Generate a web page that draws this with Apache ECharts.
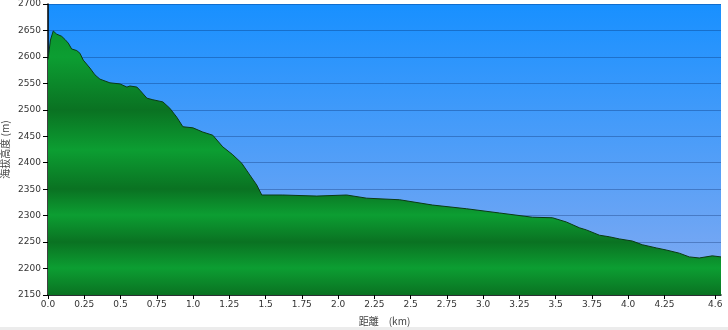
<!DOCTYPE html>
<html>
<head>
<meta charset="utf-8">
<script src="https://cdn.jsdelivr.net/npm/echarts@6/dist/echarts.min.js"></script>
<style>
html,body{margin:0;padding:0;background:#fff;}
#chart{width:728px;height:330px;}
</style>
</head>
<body>
<div id="chart"></div>
<script>
// distance (km)
var distances = [0, 0.017, 0.036, 0.060, 0.094, 0.117, 0.140, 0.163, 0.198, 0.220, 0.243, 0.289, 0.324, 0.358, 0.427, 0.496, 0.544, 0.565, 0.613, 0.634, 0.682, 0.723, 0.792, 0.840, 0.888, 0.930, 0.999, 1.067, 1.136, 1.205, 1.274, 1.336, 1.391, 1.439, 1.474, 1.618, 1.853, 2.059, 2.197, 2.424, 2.652, 2.886, 3.113, 3.340, 3.478, 3.574, 3.664, 3.712, 3.802, 3.871, 3.939, 4.029, 4.098, 4.194, 4.263, 4.353, 4.421, 4.490, 4.580, 4.640];
// elevation (m)
var elevations = [2595, 2632, 2649, 2643, 2639, 2633, 2626, 2615, 2612, 2607, 2594, 2579, 2566, 2558, 2551, 2549, 2543, 2545, 2543, 2537, 2522, 2519, 2515, 2503, 2486, 2468, 2466, 2458, 2452, 2430, 2415, 2399, 2377, 2358, 2339, 2339, 2337, 2339, 2333, 2330, 2320, 2313, 2305, 2297, 2296, 2288, 2277, 2273, 2263, 2260, 2256, 2252, 2245, 2239, 2235, 2229, 2222, 2220, 2224, 2222];
var xTickValues = [0, 0.25, 0.5, 0.75, 1.0, 1.25, 1.5, 1.75, 2.0, 2.25, 2.5, 2.75, 3.0, 3.25, 3.5, 3.75, 4.0, 4.25, 4.6];
var xTickLabels = ["0.0", "0.25", "0.5", "0.75", "1.0", "1.25", "1.5", "1.75", "2.0", "2.25", "2.5", "2.75", "3.0", "3.25", "3.5", "3.75", "4.0", "4.25", "4.6"];
var yAxisName = "海拔高度 (m)";
var xAxisName = "距離\u3000(km)";

var points = distances.map(function (d, i) { return [d, elevations[i]]; });

var chart = echarts.init(document.getElementById('chart'), null, {renderer: 'canvas'});
var G = 4, B = 295;
function fy(y) { return (y - G) / (B - G); }
var greenFill = new echarts.graphic.LinearGradient(0, G, 0, B, [
  {offset: 0.0, color: '#0a8a28'},
  {offset: fy(57), color: '#0c9e32'},
  {offset: fy(110), color: '#0a7222'},
  {offset: fy(150), color: '#0c9e32'},
  {offset: fy(189), color: '#0a7222'},
  {offset: fy(215), color: '#0c9e32'},
  {offset: fy(242), color: '#0a7222'},
  {offset: fy(268), color: '#0c9e32'},
  {offset: 1.0, color: '#0a7222'}
], true);

var option = {
  animation: false,
  backgroundColor: '#ffffff',
  textStyle: {fontFamily: 'DejaVu Sans, Verdana, sans-serif'},
  grid: {
    left: 48, right: 7, top: 4, bottom: 35,
    containLabel: false,
    outerBoundsMode: 'none',
    show: true,
    borderWidth: 0,
    backgroundColor: new echarts.graphic.LinearGradient(0, 0, 0, 1, [
      {offset: 0, color: '#1890ff'},
      {offset: 1, color: '#85abf1'}
    ])
  },
  graphic: [{
    type: 'rect', left: 0, bottom: 0,
    shape: {width: 728, height: 3},
    style: {fill: '#ececec'}, silent: true
  }],
  xAxis: {
    type: 'value',
    min: 0, max: 4.64,
    name: xAxisName,
    nameLocation: 'middle',
    nameGap: 21,
    nameMoveOverlap: false,
    nameTextStyle: {color: '#444', fontSize: 10, fontFamily: 'Noto Sans CJK JP, DejaVu Sans, sans-serif'},
    axisLine: {show: true, onZero: false, lineStyle: {color: '#000', width: 1.5}},
    axisTick: {show: true, length: 4, lineStyle: {color: '#000'}, customValues: xTickValues},
    axisLabel: {
      color: '#333', fontSize: 9, margin: 5,
      customValues: xTickValues,
      formatter: function (v) {
        for (var i = 0; i < xTickValues.length; i++) {
          if (Math.abs(xTickValues[i] - v) < 1e-6) return xTickLabels[i];
        }
        return '';
      }
    },
    splitLine: {show: false}
  },
  yAxis: {
    type: 'value',
    min: 2150, max: 2700, interval: 50,
    name: yAxisName,
    nameLocation: 'middle',
    nameGap: 38,
    nameMoveOverlap: false,
    nameRotate: 90,
    nameTextStyle: {color: '#444', fontSize: 10, fontFamily: 'Noto Sans CJK JP, DejaVu Sans, sans-serif'},
    axisLine: {show: true, lineStyle: {color: '#000', width: 1.5}},
    axisTick: {show: true, length: 5, lineStyle: {color: '#000'}},
    axisLabel: {color: '#333', fontSize: 9, margin: 7, formatter: function (v) { return String(v); }},
    splitLine: {show: true, lineStyle: {color: 'rgba(0,30,90,0.3)', width: 1}}
  },
  series: [{
    type: 'line',
    data: points,
    symbol: 'none',
    smooth: false,
    z: 1,
    lineStyle: {color: '#0b3a14', width: 1},
    areaStyle: {color: greenFill, opacity: 1, origin: 'start'}
  }]
};
chart.setOption(option);
</script>
</body>
</html>
